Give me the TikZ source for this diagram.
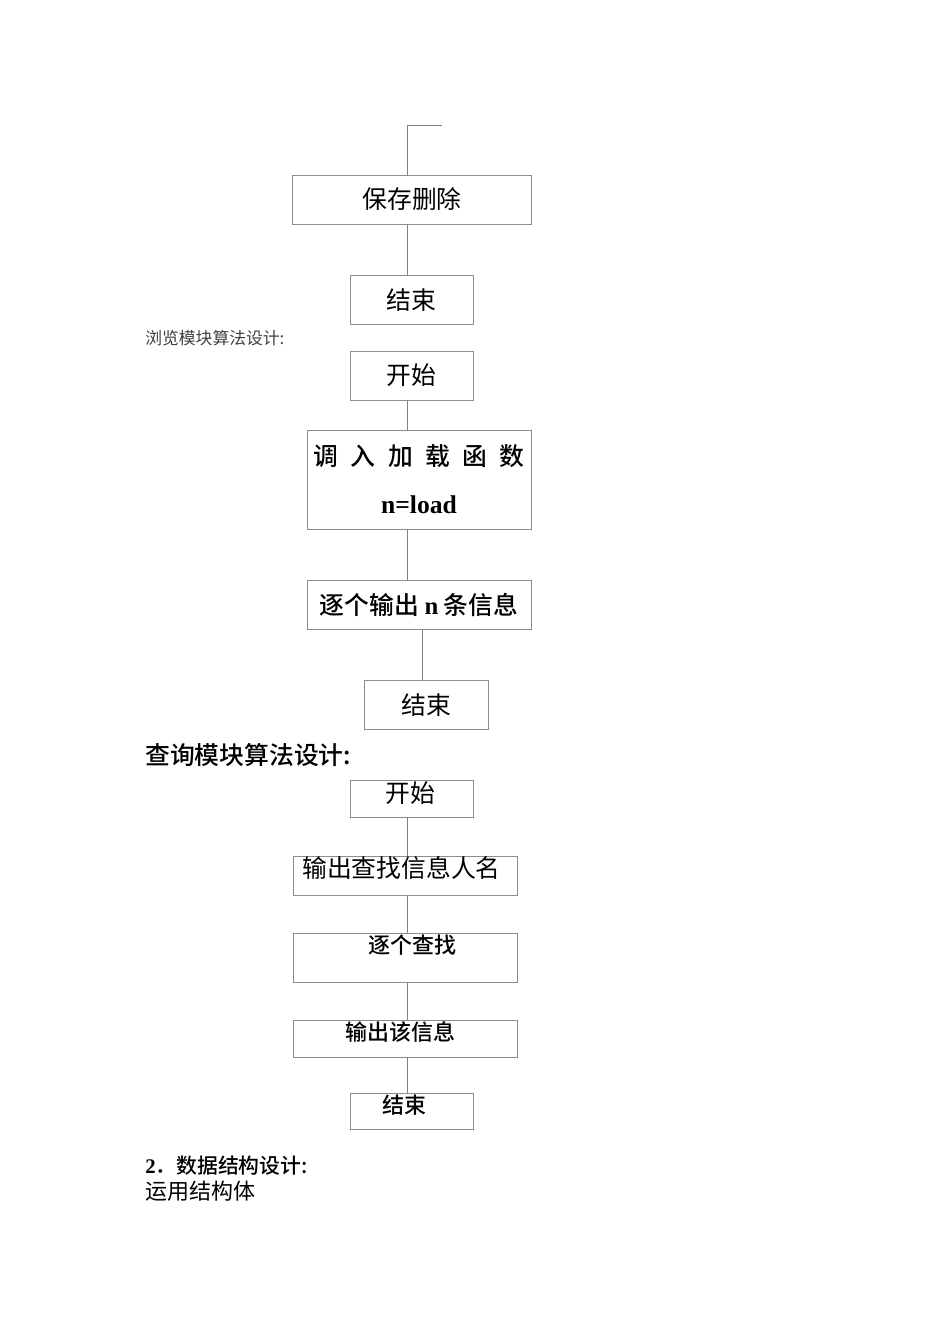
\documentclass[tikz,border=0pt]{standalone}
\usepackage{fontspec}
\setmainfont{Liberation Serif}
\newfontfamily\cjk[BoldFont={Noto Sans CJK SC Medium}]{Noto Sans CJK SC}

\begin{document}
\begin{tikzpicture}[
  x=0.625pt, y=-0.625pt,
  box/.style  = {draw=black!45, line width=0.6pt, inner sep=0pt},
  ln/.style   = {draw=black!50, line width=0.6pt},
  big/.style  = {font=\fontsize{15.5pt}{18pt}\selectfont\cjk},
  bigb/.style = {font=\fontsize{15.5pt}{18pt}\selectfont\cjk\bfseries},
  mid/.style  = {font=\fontsize{13.75pt}{16pt}\selectfont\cjk\bfseries},
]
\useasboundingbox (0,0) rectangle (950,1344);

% upper part
\coordinate (tp) at (407,125);
\coordinate (tr) at (442,125);
\node[box, big, minimum width=148.8pt, minimum height=30.6pt] (sv) at (412,199.5) {保存删除};
\node[box, big, minimum width=76.9pt, minimum height=31.2pt] (e1) at (411.5,300) {结束};
\draw[ln] (tr) -- (tp) -- (sv.north -| tp);
\draw[ln] (sv.south -| tp) -- (e1.north -| tp);

% browse module
\node[anchor=west, inner sep=0pt, font=\fontsize{10.5pt}{12pt}\selectfont\cjk\color{black!75}] (hb) at (145,338) {浏览模块算法设计:};

\node[box, big, minimum width=76.9pt, minimum height=30.6pt] (s1) at (411.5,375.5) {开始};
\node[box, bigb, align=center, minimum width=140pt, minimum height=61.9pt] (ld) at (419,479.5)
  {调\enspace 入\enspace 加\enspace 载\enspace 函\enspace 数\\[12pt]{\fontsize{16pt}{18pt}\selectfont\rmfamily n=load}};
\node[box, bigb, minimum width=140pt, minimum height=30.6pt] (out) at (419,604.5)
  {逐个输出 {\rmfamily n} 条信息};
\node[box, big, minimum width=77.5pt, minimum height=31.2pt] (e2) at (426,705) {结束};

\coordinate (c1) at (407,0);
\coordinate (c2) at (422,0);
\draw[ln] (s1.south -| c1) -- (ld.north -| c1);
\draw[ln] (ld.south -| c1) -- (out.north -| c1);
\draw[ln] (out.south -| c2) -- (e2.north -| c2);

% query module
\node[anchor=west, inner sep=0pt, font=\fontsize{15.5pt}{18pt}\selectfont\cjk\bfseries] (hq) at (145,755) {查询模块算法设计:};

\node[box, minimum width=76.9pt, minimum height=23.1pt] (s2) at (411.5,798.5) {};
\node[big] (s2t) at (410,793) {开始};
\node[box, minimum width=140pt, minimum height=24.4pt] (qn) at (405,875.5) {};
\node[big, anchor=west, inner sep=0pt] (qnt) at (302,868) {输出查找信息人名};
\node[box, minimum width=140pt, minimum height=31.2pt] (qf) at (405,958) {};
\node[mid, anchor=west, inner sep=0pt] (qft) at (368,945) {逐个查找};
\node[box, minimum width=140pt, minimum height=23.1pt] (qo) at (405,1038.5) {};
\node[mid, anchor=west, inner sep=0pt] (qot) at (345,1032) {输出该信息};
\node[box, minimum width=76.9pt, minimum height=22.5pt] (e3) at (411.5,1111) {};
\node[mid, anchor=west, inner sep=0pt] (e3t) at (382,1105) {结束};

\draw[ln] (s2.south -| c1) -- (qn.north -| c1);
\draw[ln] (qn.south -| c1) -- (qf.north -| c1);
\draw[ln] (qf.south -| c1) -- (qo.north -| c1);
\draw[ln] (qo.south -| c1) -- (e3.north -| c1);

% data structure
\node[anchor=west, inner sep=0pt, font=\fontsize{13pt}{15pt}\selectfont\bfseries] (hd) at (145,1166)
  {2{\cjk ．数据结构设计:}};
\node[anchor=west, inner sep=0pt, font=\fontsize{13.75pt}{16pt}\selectfont\cjk] (hu) at (145,1191) {运用结构体};

\end{tikzpicture}
\end{document}
